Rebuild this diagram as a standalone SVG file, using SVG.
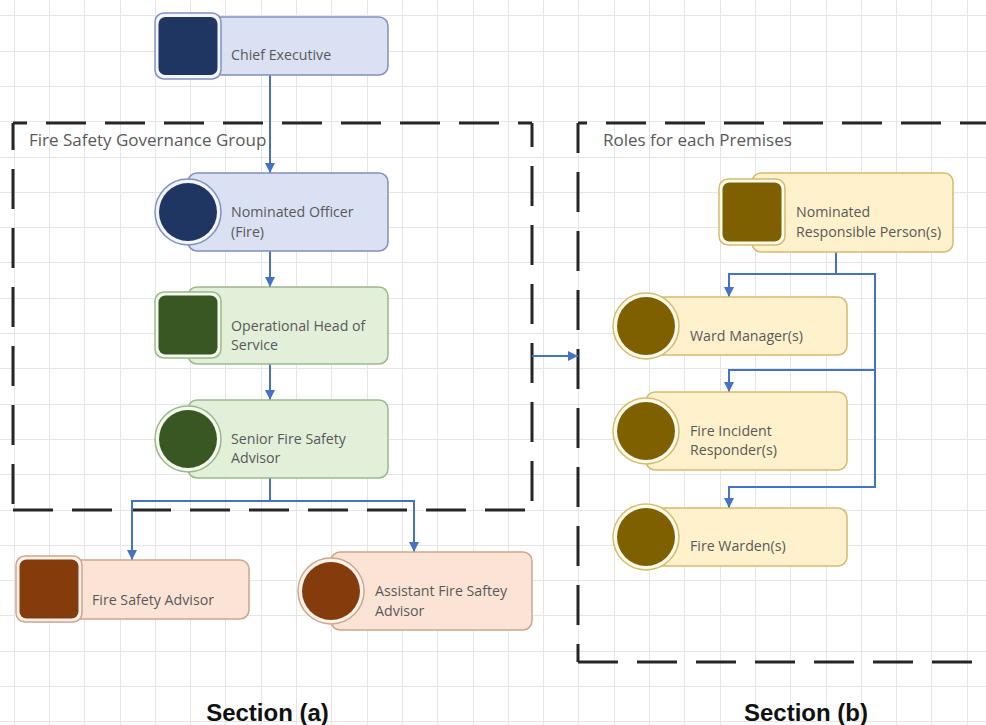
<svg xmlns="http://www.w3.org/2000/svg" width="986" height="725" viewBox="0 0 986 725">
<defs>
<style>
.grid{stroke:#e5e5e5;stroke-width:1;fill:none}
.dash{stroke:#262626;stroke-width:3;fill:none;stroke-dasharray:40 19}
.conn{stroke:#4472c4;stroke-width:2;fill:none}
.arr{marker-end:url(#ah)}
.lbl{font-family:"Open Sans","Liberation Sans",sans-serif;font-size:14.2px;fill:#595959}
.glbl{font-family:"Open Sans","Liberation Sans",sans-serif;font-size:17px;fill:#595959}
.sec{font-family:"Liberation Sans",Arial,sans-serif;font-size:24px;font-weight:bold;fill:#111}
.blue .box{fill:#dae1f3;stroke:#8190bd;stroke-width:1.5}
.blue .ring{fill:#f3f5fc;stroke:#8190bd;stroke-width:1.5}
.blue .core{fill:#1f3562}
.green .box{fill:#e2efd9;stroke:#9bb88a;stroke-width:1.5}
.green .ring{fill:#f4f9f0;stroke:#9bb88a;stroke-width:1.5}
.green .core{fill:#385723}
.orange .box{fill:#fbe4d5;stroke:#cfa58b;stroke-width:1.5}
.orange .ring{fill:#fdf3ec;stroke:#cfa58b;stroke-width:1.5}
.orange .core{fill:#843c0c}
.yellow .box{fill:#fff1cb;stroke:#d2bc72;stroke-width:1.5}
.yellow .ring{fill:#fffaea;stroke:#d2bc72;stroke-width:1.5}
.yellow .core{fill:#7f6000}
</style>
<marker id="ah" markerUnits="userSpaceOnUse" markerWidth="11" markerHeight="11" refX="10" refY="5.5" orient="auto">
<path d="M0,0.5 L10,5.5 L0,10.5 z" fill="#4472c4"/>
</marker>
</defs>
<rect width="986" height="725" fill="#ffffff"/>
<g id="grid">
<path class="grid" d="M14.5,0V725M49.5,0V725M84.5,0V725M120.5,0V725M155.5,0V725M190.5,0V725M225.5,0V725M261.5,0V725M296.5,0V725M331.5,0V725M367.5,0V725M402.5,0V725M437.5,0V725M473.5,0V725M508.5,0V725M543.5,0V725M578.5,0V725M614.5,0V725M649.5,0V725M684.5,0V725M720.5,0V725M755.5,0V725M790.5,0V725M826.5,0V725M861.5,0V725M896.5,0V725M931.5,0V725M967.5,0V725"/>
<path class="grid" d="M0,15.5H986M0,51.5H986M0,86.5H986M0,121.5H986M0,157.5H986M0,192.5H986M0,227.5H986M0,262.5H986M0,298.5H986M0,333.5H986M0,368.5H986M0,404.5H986M0,439.5H986M0,474.5H986M0,510.5H986M0,545.5H986M0,580.5H986M0,615.5H986M0,651.5H986M0,686.5H986M0,721.5H986"/>
</g>
<g id="group-a">
<path class="dash" d="M13,123H532" stroke-dashoffset="26"/>
<path class="dash" d="M13,123V510" stroke-dashoffset="13"/>
<path class="dash" d="M532,123V510" stroke-dashoffset="16"/>
<path class="dash" d="M13,510H532"/>
<text class="glbl" x="29" y="146">Fire Safety Governance Group</text>
</g>
<g id="group-b">
<path class="dash" d="M578,123H986" stroke-dashoffset="31"/>
<path class="dash" d="M578,123V662" stroke-dashoffset="10"/>
<path class="dash" d="M578,662H986"/>
<text class="glbl" x="603" y="146">Roles for each Premises</text>
</g>
<g id="connectors">
<path class="conn arr" d="M270,75V173"/>
<path class="conn arr" d="M270,251V287"/>
<path class="conn arr" d="M270,364V400"/>
<path class="conn arr" d="M270,478V501H132V560"/>
<path class="conn arr" d="M270,501H414V552"/>
<path class="conn arr" d="M532,356H578"/>
<path class="conn arr" d="M836,252V274H729V297"/>
<path class="conn arr" d="M836,274H875V370H729V392"/>
<path class="conn arr" d="M875,370V487H729V508"/>
</g>
<g id="chief-executive" class="blue">
<rect class="box" x="188" y="17" width="200" height="58" rx="9"/>
<rect class="ring" x="155" y="13" width="66" height="66" rx="9"/>
<rect class="core" x="158.5" y="17" width="59" height="58" rx="7"/>
<text class="lbl" x="231" y="60">Chief Executive</text>
</g>
<g id="nominated-officer" class="blue">
<rect class="box" x="188" y="173" width="200" height="78" rx="9"/>
<circle class="ring" cx="188" cy="212" r="33"/>
<circle class="core" cx="188" cy="212" r="29"/>
<text class="lbl" x="231" y="217">Nominated Officer</text>
<text class="lbl" x="231" y="237">(Fire)</text>
</g>
<g id="operational-head" class="green">
<rect class="box" x="188" y="287" width="200" height="77" rx="9"/>
<rect class="ring" x="155" y="292" width="66" height="66" rx="9"/>
<rect class="core" x="158.5" y="295.5" width="59" height="59" rx="7"/>
<text class="lbl" x="231" y="331">Operational Head of</text>
<text class="lbl" x="231" y="350">Service</text>
</g>
<g id="senior-fire-safety-advisor" class="green">
<rect class="box" x="188" y="400" width="200" height="78" rx="9"/>
<circle class="ring" cx="188" cy="439" r="33"/>
<circle class="core" cx="188" cy="439" r="29"/>
<text class="lbl" x="231" y="444">Senior Fire Safety</text>
<text class="lbl" x="231" y="463">Advisor</text>
</g>
<g id="fire-safety-advisor" class="orange">
<rect class="box" x="49" y="560" width="200" height="59" rx="9"/>
<rect class="ring" x="16" y="556" width="66" height="66" rx="9"/>
<rect class="core" x="19.5" y="559.5" width="59" height="59" rx="7"/>
<text class="lbl" x="92" y="605">Fire Safety Advisor</text>
</g>
<g id="assistant-fire-safety-advisor" class="orange">
<rect class="box" x="331" y="552" width="201" height="78" rx="9"/>
<circle class="ring" cx="331" cy="591" r="33"/>
<circle class="core" cx="331" cy="591" r="29"/>
<text class="lbl" x="375" y="596">Assistant Fire Saftey</text>
<text class="lbl" x="375" y="616">Advisor</text>
</g>
<g id="nominated-responsible-person" class="yellow">
<rect class="box" x="752" y="173" width="201" height="79" rx="9"/>
<rect class="ring" x="719" y="179" width="66" height="66" rx="9"/>
<rect class="core" x="722.5" y="182.5" width="59" height="59" rx="7"/>
<text class="lbl" x="796" y="217">Nominated</text>
<text class="lbl" x="796" y="237">Responsible Person(s)</text>
</g>
<g id="ward-manager" class="yellow">
<rect class="box" x="646" y="297" width="201" height="58" rx="9"/>
<circle class="ring" cx="646" cy="326" r="33"/>
<circle class="core" cx="646" cy="326" r="29"/>
<text class="lbl" x="690" y="341">Ward Manager(s)</text>
</g>
<g id="fire-incident-responder" class="yellow">
<rect class="box" x="646" y="392" width="201" height="78" rx="9"/>
<circle class="ring" cx="646" cy="431" r="33"/>
<circle class="core" cx="646" cy="431" r="29"/>
<text class="lbl" x="690" y="436">Fire Incident</text>
<text class="lbl" x="690" y="455">Responder(s)</text>
</g>
<g id="fire-warden" class="yellow">
<rect class="box" x="646" y="508" width="201" height="58" rx="9"/>
<circle class="ring" cx="646" cy="537" r="33"/>
<circle class="core" cx="646" cy="537" r="29"/>
<text class="lbl" x="690" y="551">Fire Warden(s)</text>
</g>
<text class="sec" x="267.5" y="721" text-anchor="middle">Section (a)</text>
<text class="sec" x="806" y="721" text-anchor="middle">Section (b)</text>
</svg>
